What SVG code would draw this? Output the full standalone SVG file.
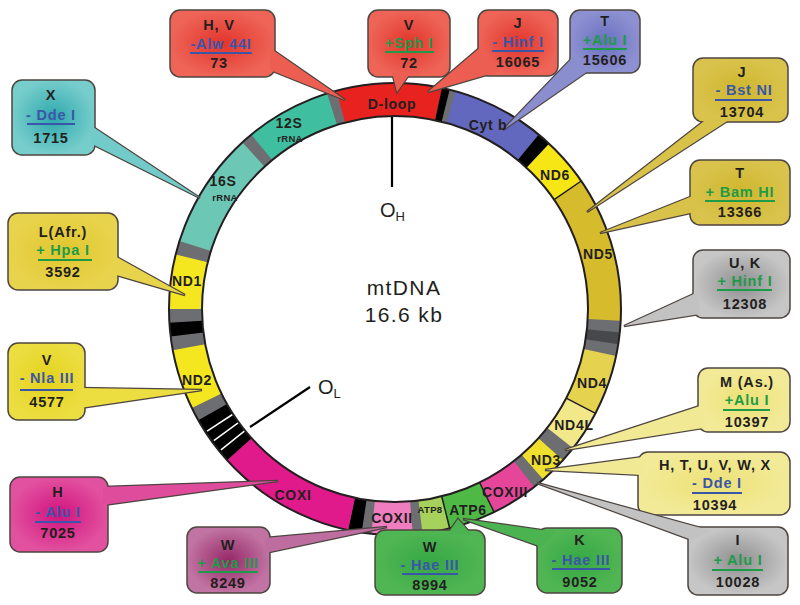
<svg xmlns="http://www.w3.org/2000/svg" width="800" height="605" viewBox="0 0 800 605">
<style>
.seg{fill:none;stroke-width:33}
.box{stroke:#4d4540;stroke-width:1.5}
.ptr{stroke:#4d4540;stroke-width:2.4;stroke-linejoin:miter}
.t{font-family:"Liberation Sans",Arial,sans-serif;font-weight:bold;font-size:14.5px;letter-spacing:0.8px;text-anchor:middle;fill:#231f20}
.b{fill:#3a56a8}.g{fill:#1e9b48}
.ub{stroke:#3a56a8;stroke-width:2}.ug{stroke:#1e9b48;stroke-width:2}
.rl{font-family:"Liberation Sans",Arial,sans-serif;font-weight:bold;font-size:14px;letter-spacing:0.7px;text-anchor:middle;fill:#231f20}
.sm{font-size:9.5px;letter-spacing:0.3px}
.ct{font-family:"Liberation Sans",Arial,sans-serif;font-size:21px;letter-spacing:1.4px;text-anchor:middle;fill:#231f20}
.or{font-family:"Liberation Sans",Arial,sans-serif;font-size:20px;fill:#231f20}
.os{font-family:"Liberation Sans",Arial,sans-serif;font-size:13px;fill:#231f20}
</style>
<defs>
<radialGradient id="gRed"><stop offset="0" stop-color="#e2342b"/><stop offset="1" stop-color="#ee6457"/></radialGradient>
<radialGradient id="gBlue"><stop offset="0" stop-color="#6a6fc0"/><stop offset="1" stop-color="#8d91d1"/></radialGradient>
<radialGradient id="gOlive"><stop offset="0" stop-color="#cfb62e"/><stop offset="1" stop-color="#d9c34c"/></radialGradient>
<radialGradient id="gGray"><stop offset="0" stop-color="#8e8e90"/><stop offset="1" stop-color="#c6c6c6"/></radialGradient>
<radialGradient id="gPale"><stop offset="0" stop-color="#ece176"/><stop offset="1" stop-color="#f3ea98"/></radialGradient>
<radialGradient id="gGreen"><stop offset="0" stop-color="#35a845"/><stop offset="1" stop-color="#50b653"/></radialGradient>
<radialGradient id="gMauve"><stop offset="0" stop-color="#962868"/><stop offset="1" stop-color="#c174a3"/></radialGradient>
<radialGradient id="gMag"><stop offset="0" stop-color="#d1127e"/><stop offset="1" stop-color="#e2519f"/></radialGradient>
<radialGradient id="gYel"><stop offset="0" stop-color="#e4d21c"/><stop offset="1" stop-color="#ecdd40"/></radialGradient>
<radialGradient id="gGold"><stop offset="0" stop-color="#e0c62e"/><stop offset="1" stop-color="#e8d34c"/></radialGradient>
<radialGradient id="gTeal"><stop offset="0" stop-color="#2ea8ad"/><stop offset="1" stop-color="#76cdcb"/></radialGradient>
</defs>
<rect width="800" height="605" fill="#ffffff"/>

<g id="ring">
<g transform="rotate(-90 395 309)">
<circle class="seg" cx="395" cy="309" r="209.5" stroke="#6d6e71"/>
<circle class="seg" cx="395" cy="309" r="209.5" pathLength="360" stroke="#e8221e" stroke-dasharray="12 333 15"/>
<circle class="seg" cx="395" cy="309" r="209.5" pathLength="360" stroke="#000" stroke-dasharray="2 360" stroke-dashoffset="-12"/>
<circle class="seg" cx="395" cy="309" r="209.5" pathLength="360" stroke="#6268be" stroke-dasharray="24 360" stroke-dashoffset="-15.5"/>
<circle class="seg" cx="395" cy="309" r="209.5" pathLength="360" stroke="#000" stroke-dasharray="3.5 360" stroke-dashoffset="-39.5"/>
<circle class="seg" cx="395" cy="309" r="209.5" pathLength="360" stroke="#f7e616" stroke-dasharray="12.5 360" stroke-dashoffset="-43"/>
<circle class="seg" cx="395" cy="309" r="209.5" pathLength="360" stroke="#d6bb2c" stroke-dasharray="37.5 360" stroke-dashoffset="-55.5"/>
<circle class="seg" cx="395" cy="309" r="209.5" pathLength="360" stroke="#47484a" stroke-dasharray="3 360" stroke-dashoffset="-96"/>
<circle class="seg" cx="395" cy="309" r="209.5" pathLength="360" stroke="#e5d24f" stroke-dasharray="15.5 360" stroke-dashoffset="-102"/>
<circle class="seg" cx="395" cy="309" r="209.5" pathLength="360" stroke="#f2e88a" stroke-dasharray="10.5 360" stroke-dashoffset="-117.5"/>
<circle class="seg" cx="395" cy="309" r="209.5" pathLength="360" stroke="#efe02f" stroke-dasharray="7 360" stroke-dashoffset="-132"/>
<circle class="seg" cx="395" cy="309" r="209.5" pathLength="360" stroke="#e6469a" stroke-dasharray="12 360" stroke-dashoffset="-142"/>
<circle class="seg" cx="395" cy="309" r="209.5" pathLength="360" stroke="#4fb946" stroke-dasharray="12 360" stroke-dashoffset="-154"/>
<circle class="seg" cx="395" cy="309" r="209.5" pathLength="360" stroke="#a6d15a" stroke-dasharray="7 360" stroke-dashoffset="-166"/>
<circle class="seg" cx="395" cy="309" r="209.5" pathLength="360" stroke="#ef7dbf" stroke-dasharray="10.5 360" stroke-dashoffset="-175.5"/>
<circle class="seg" cx="395" cy="309" r="209.5" pathLength="360" stroke="#000" stroke-dasharray="3.5 360" stroke-dashoffset="-188.5"/>
<circle class="seg" cx="395" cy="309" r="209.5" pathLength="360" stroke="#e11a8b" stroke-dasharray="36 360" stroke-dashoffset="-192"/>
<circle class="seg" cx="395" cy="309" r="209.5" pathLength="360" stroke="#000" stroke-dasharray="12.5 360" stroke-dashoffset="-228"/>
<circle class="seg" cx="395" cy="309" r="209.5" pathLength="360" stroke="#f5e71f" stroke-dasharray="15.5 360" stroke-dashoffset="-244"/>
<circle class="seg" cx="395" cy="309" r="209.5" pathLength="360" stroke="#000" stroke-dasharray="3.5 360" stroke-dashoffset="-263"/>
<circle class="seg" cx="395" cy="309" r="209.5" pathLength="360" stroke="#f5e71f" stroke-dasharray="14 360" stroke-dashoffset="-270"/>
<circle class="seg" cx="395" cy="309" r="209.5" pathLength="360" stroke="#6cc7b5" stroke-dasharray="30 360" stroke-dashoffset="-287.5"/>
<circle class="seg" cx="395" cy="309" r="209.5" pathLength="360" stroke="#3fbf9f" stroke-dasharray="22 360" stroke-dashoffset="-320.5"/>
</g>
<g stroke="#ffffff" stroke-width="1.5">
<line x1="246.5" y1="429.3" x2="221" y2="449.9"/>
<line x1="240.5" y1="421.2" x2="213.8" y2="440.6"/>
<line x1="234.8" y1="413" x2="207.1" y2="431.1"/>
</g>
<g stroke="#231f20" stroke-width="1.5">
<line x1="554.1" y1="199.7" x2="581.2" y2="181"/>
<line x1="566.2" y1="398.1" x2="595.5" y2="413.3"/>
<line x1="479.6" y1="482.5" x2="494.1" y2="512.1"/>
<line x1="441.7" y1="496.3" x2="449.7" y2="528.3"/>
</g>
<circle cx="395" cy="309" r="226" fill="none" stroke="#231f20" stroke-width="2"/>
<circle cx="395" cy="309" r="193" fill="none" stroke="#231f20" stroke-width="2"/>
</g>

<g id="connectors" stroke="#000" stroke-width="2.2">
<line x1="392" y1="117" x2="392" y2="187"/>
<line x1="250" y1="427" x2="310" y2="387"/>
</g>

<g id="center-label">
<text class="ct" x="404" y="295">mtDNA</text>
<text class="ct" x="404" y="322">16.6 kb</text>
<text class="or" x="380" y="217">O<tspan class="os" dy="4">H</tspan></text>
<text class="or" x="318" y="394">O<tspan class="os" dy="4">L</tspan></text>
</g>

<g id="c73">
<polygon class="ptr" fill="#ec5e51" points="270,48 345,100 270,70"/>
<rect class="box" x="170" y="10" width="105" height="67" rx="10" fill="url(#gRed)"/>
<polygon fill="#ec5e51" points="270,48 345,100 270,70"/>
<text class="t" x="219" y="30">H, V</text>
<text class="t b" x="221" y="49">-Alw 44I</text>
<line class="ub" x1="190" y1="53" x2="252" y2="53"/>
<text class="t" x="219" y="68">73</text>
</g>

<g id="c72">
<polygon class="ptr" fill="#ec5e51" points="392,72 397,92 411,72"/>
<rect class="box" x="368" y="10" width="82" height="67" rx="10" fill="url(#gRed)"/>
<polygon fill="#ec5e51" points="392,72 397,92 411,72"/>
<text class="t" x="409" y="30">V</text>
<text class="t g" x="409" y="48">+Sph I</text>
<line class="ug" x1="385" y1="52" x2="434" y2="52"/>
<text class="t" x="409" y="68">72</text>
</g>

<g id="c16065">
<polygon class="ptr" fill="#ec5e51" points="483,45 428,92 500,71"/>
<rect class="box" x="478" y="10" width="80" height="66" rx="10" fill="url(#gRed)"/>
<polygon fill="#ec5e51" points="483,45 428,92 500,71"/>
<text class="t" x="518" y="28">J</text>
<text class="t b" x="518" y="47">- Hinf I</text>
<line class="ub" x1="492" y1="51" x2="544" y2="51"/>
<text class="t" x="518" y="67">16065</text>
</g>

<g id="c15606">
<polygon class="ptr" fill="#8a8ecf" points="575,55 503,130 591,69"/>
<rect class="box" x="570" y="10" width="70" height="63" rx="10" fill="url(#gBlue)"/>
<polygon fill="#8a8ecf" points="575,55 503,130 591,69"/>
<text class="t" x="605" y="26">T</text>
<text class="t g" x="605" y="45">+Alu I</text>
<line class="ug" x1="583" y1="49" x2="627" y2="49"/>
<text class="t" x="605" y="65">15606</text>
</g>

<g id="c13704">
<polygon class="ptr" fill="#d8c24a" points="708,118 587,212 732,118"/>
<rect class="box" x="693" y="58" width="95" height="64" rx="10" fill="url(#gOlive)"/>
<polygon fill="#d8c24a" points="708,118 587,212 732,118"/>
<text class="t" x="742" y="77">J</text>
<text class="t b" x="744" y="95">- Bst NI</text>
<line class="ub" x1="715" y1="100" x2="772" y2="100"/>
<text class="t" x="742" y="117">13704</text>
</g>

<g id="c13366">
<polygon class="ptr" fill="#d8c24a" points="695,195 600,233 695,212"/>
<rect class="box" x="690" y="160" width="100" height="65" rx="10" fill="url(#gOlive)"/>
<polygon fill="#d8c24a" points="695,195 600,233 695,212"/>
<text class="t" x="740" y="178">T</text>
<text class="t g" x="740" y="197">+ Bam HI</text>
<line class="ug" x1="705" y1="201" x2="775" y2="201"/>
<text class="t" x="740" y="217">13366</text>
</g>

<g id="c12308">
<polygon class="ptr" fill="#c2c2c2" points="698,292 624,326 700,314"/>
<rect class="box" x="693" y="250" width="97" height="68" rx="10" fill="url(#gGray)"/>
<polygon fill="#c2c2c2" points="698,292 624,326 700,314"/>
<text class="t" x="745" y="268">U, K</text>
<text class="t g" x="745" y="286">+ Hinf I</text>
<line class="ug" x1="717" y1="290" x2="772" y2="290"/>
<text class="t" x="745" y="309">12308</text>
</g>

<g id="c10397">
<polygon class="ptr" fill="#f2e994" points="703,405 565,450 703,428"/>
<rect class="box" x="698" y="368" width="92" height="64" rx="10" fill="url(#gPale)"/>
<polygon fill="#f2e994" points="703,405 565,450 703,428"/>
<text class="t" x="747" y="387">M (As.)</text>
<text class="t g" x="747" y="405">+Alu I</text>
<line class="ug" x1="723" y1="410" x2="770" y2="410"/>
<text class="t" x="747" y="427">10397</text>
</g>

<g id="c10394">
<polygon class="ptr" fill="#f2e994" points="643,457 545,470 643,475"/>
<rect class="box" x="638" y="452" width="152" height="63" rx="10" fill="url(#gPale)"/>
<polygon fill="#f2e994" points="643,457 545,470 643,475"/>
<text class="t" x="715" y="470">H, T, U, V, W, X</text>
<text class="t b" x="717" y="488">- Dde I</text>
<line class="ub" x1="692" y1="493" x2="742" y2="493"/>
<text class="t" x="715" y="510">10394</text>
</g>

<g id="c10028">
<polygon class="ptr" fill="#c2c2c2" points="692,540 537,483 712,531"/>
<rect class="box" x="688" y="527" width="100" height="68" rx="10" fill="url(#gGray)"/>
<polygon fill="#c2c2c2" points="692,540 537,483 712,531"/>
<text class="t" x="738" y="545">I</text>
<text class="t g" x="738" y="565">+ Alu I</text>
<line class="ug" x1="712" y1="570" x2="763" y2="570"/>
<text class="t" x="738" y="587">10028</text>
</g>

<g id="c9052">
<polygon class="ptr" fill="#4cb351" points="542,547 463,519 556,532"/>
<rect class="box" x="537" y="528" width="85" height="65" rx="10" fill="url(#gGreen)"/>
<polygon fill="#4cb351" points="542,547 463,519 556,532"/>
<text class="t" x="580" y="545">K</text>
<text class="t b" x="581" y="565">- Hae III</text>
<line class="ub" x1="552" y1="569" x2="610" y2="569"/>
<text class="t" x="580" y="587">9052</text>
</g>

<g id="c8994">
<polygon class="ptr" fill="#4cb351" points="447,535 458,519 472,535"/>
<rect class="box" x="375" y="530" width="110" height="65" rx="10" fill="url(#gGreen)"/>
<polygon fill="#4cb351" points="447,535 458,519 472,535"/>
<text class="t" x="430" y="552">W</text>
<text class="t b" x="430" y="570">- Hae III</text>
<line class="ub" x1="402" y1="574" x2="458" y2="574"/>
<text class="t" x="430" y="590">8994</text>
</g>

<g id="c8249">
<polygon class="ptr" fill="#bd6d9f" points="265,538 387,527 265,553"/>
<rect class="box" x="187" y="527" width="83" height="66" rx="10" fill="url(#gMauve)"/>
<polygon fill="#bd6d9f" points="265,538 387,527 265,553"/>
<text class="t" x="228" y="550">W</text>
<text class="t g" x="228" y="568">+ Ava III</text>
<line class="ug" x1="198" y1="572" x2="258" y2="572"/>
<text class="t" x="228" y="588">8249</text>
</g>

<g id="c7025">
<polygon class="ptr" fill="#e04c9c" points="103,487 278,481 103,505"/>
<rect class="box" x="10" y="477" width="98" height="75" rx="10" fill="url(#gMag)"/>
<polygon fill="#e04c9c" points="103,487 278,481 103,505"/>
<text class="t" x="58" y="497">H</text>
<text class="t b" x="58" y="517">- Alu I</text>
<line class="ub" x1="35" y1="522" x2="81" y2="522"/>
<text class="t" x="58" y="538">7025</text>
</g>

<g id="c4577">
<polygon class="ptr" fill="#ecdd40" points="80,388 202,390 80,408"/>
<rect class="box" x="8" y="343" width="77" height="77" rx="10" fill="url(#gYel)"/>
<polygon fill="#ecdd40" points="80,388 202,390 80,408"/>
<text class="t" x="47" y="365">V</text>
<text class="t b" x="47" y="383">- Nla III</text>
<line class="ub" x1="20" y1="390" x2="73" y2="390"/>
<text class="t" x="47" y="407">4577</text>
</g>

<g id="c3592">
<polygon class="ptr" fill="#e8d34c" points="113,255 185,295 113,274"/>
<rect class="box" x="8" y="213" width="110" height="77" rx="10" fill="url(#gGold)"/>
<polygon fill="#e8d34c" points="113,255 185,295 113,274"/>
<text class="t" x="63" y="237">L(Afr.)</text>
<text class="t g" x="63" y="255">+ Hpa I</text>
<line class="ug" x1="38" y1="260" x2="92" y2="260"/>
<text class="t" x="63" y="277">3592</text>
</g>

<g id="c1715">
<polygon class="ptr" fill="#72cbc9" points="90,125 200,198 90,143"/>
<rect class="box" x="12" y="80" width="83" height="75" rx="10" fill="url(#gTeal)"/>
<polygon fill="#72cbc9" points="90,125 200,198 90,143"/>
<text class="t" x="51" y="100">X</text>
<text class="t b" x="51" y="120">- Dde I</text>
<line class="ub" x1="27" y1="124" x2="75" y2="124"/>
<text class="t" x="51" y="143">1715</text>
</g>

<g id="ring-labels">
<text class="rl" x="392" y="109">D-loop</text>
<text class="rl" x="289" y="128">12S</text>
<text class="rl sm" x="290" y="142">rRNA</text>
<text class="rl" x="223" y="186">16S</text>
<text class="rl sm" x="225" y="201">rRNA</text>
<text class="rl" x="488" y="130">Cyt b</text>
<text class="rl" x="555" y="180">ND6</text>
<text class="rl" x="598" y="259">ND5</text>
<text class="rl" x="592" y="388">ND4</text>
<text class="rl" x="574" y="430">ND4L</text>
<text class="rl" x="546" y="465">ND3</text>
<text class="rl" x="505" y="497">COXIII</text>
<text class="rl" x="468" y="515">ATP6</text>
<text class="rl sm" x="430" y="513">ATP8</text>
<text class="rl" x="392" y="523">COXII</text>
<text class="rl" x="293" y="500">COXI</text>
<text class="rl" x="197" y="385">ND2</text>
<text class="rl" x="187" y="286">ND1</text>
</g>
</svg>
